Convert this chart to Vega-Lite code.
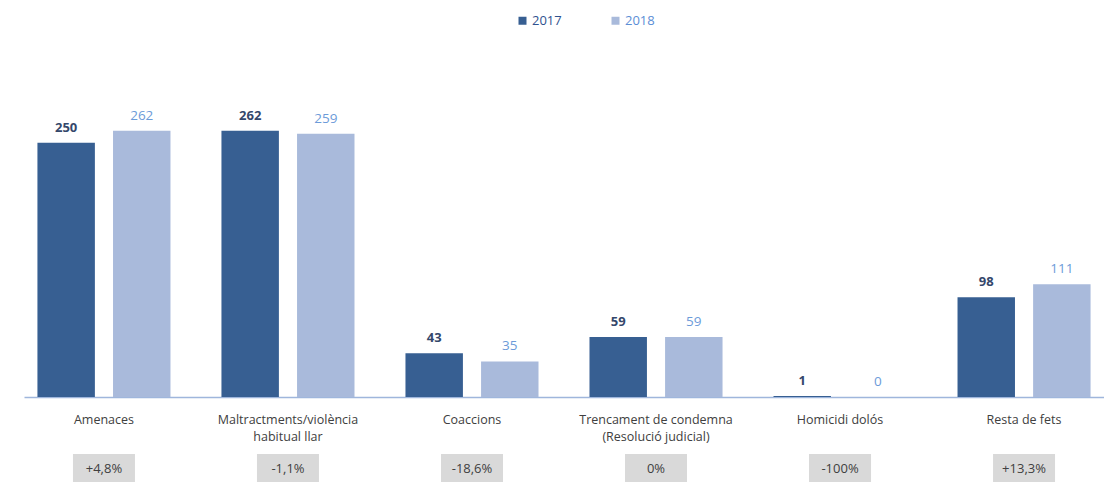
{
  "$schema": "https://vega.github.io/schema/vega-lite/v6.json",
  "padding": {"left": 24, "top": 14, "right": 0, "bottom": 0},
  "background": "white",
  "config": {"view": {"stroke": null}, "font": "Open Sans"},
  "datasets": {
    "bars": [
      {"cat": "Amenaces", "year": "2017", "value": 250},
      {"cat": "Amenaces", "year": "2018", "value": 262},
      {"cat": "Maltractments/violència habitual llar", "year": "2017", "value": 262},
      {"cat": "Maltractments/violència habitual llar", "year": "2018", "value": 259},
      {"cat": "Coaccions", "year": "2017", "value": 43},
      {"cat": "Coaccions", "year": "2018", "value": 35},
      {"cat": "Trencament de condemna (Resolució judicial)", "year": "2017", "value": 59},
      {"cat": "Trencament de condemna (Resolució judicial)", "year": "2018", "value": 59},
      {"cat": "Homicidi dolós", "year": "2017", "value": 1},
      {"cat": "Homicidi dolós", "year": "2018", "value": 0},
      {"cat": "Resta de fets", "year": "2017", "value": 98},
      {"cat": "Resta de fets", "year": "2018", "value": 111}
    ],
    "pcts": [
      {"cat": "Amenaces", "pct": "+4,8%"},
      {"cat": "Maltractments/violència habitual llar", "pct": "-1,1%"},
      {"cat": "Coaccions", "pct": "-18,6%"},
      {"cat": "Trencament de condemna (Resolució judicial)", "pct": "0%"},
      {"cat": "Homicidi dolós", "pct": "-100%"},
      {"cat": "Resta de fets", "pct": "+13,3%"}
    ]
  },
  "vconcat": [
    {
      "width": 1080,
      "height": 305,
      "data": {"name": "bars"},
      "encoding": {
        "x": {
          "field": "cat", "type": "nominal", "sort": null, "title": null,
          "scale": {"type": "band", "paddingInner": 0.277, "paddingOuter": 0.073},
          "axis": {
            "labelAngle": 0, "ticks": false, "labelPadding": 16,
            "labelFontSize": 12.5, "labelColor": "#404040", "labelLineHeight": 17,
            "domainColor": "#9fb6dc", "domainWidth": 1.5, "labelLimit": 300,
            "labelExpr": "datum.value == 'Maltractments/violència habitual llar' ? ['Maltractments/violència', 'habitual llar'] : datum.value == 'Trencament de condemna (Resolució judicial)' ? ['Trencament de condemna', '(Resolució judicial)'] : datum.value"
          }
        },
        "xOffset": {"field": "year", "type": "nominal", "scale": {"paddingInner": 0.24, "paddingOuter": 0}},
        "y": {"field": "value", "type": "quantitative", "scale": {"domain": [0, 300]}, "axis": null}
      },
      "layer": [
        {
          "mark": {"type": "bar"},
          "encoding": {
            "color": {
              "field": "year", "type": "nominal", "title": null,
              "scale": {"domain": ["2017", "2018"], "range": ["#375f92", "#a9badb"]},
              "legend": {
                "orient": "none", "legendX": 492, "legendY": -78, "direction": "horizontal",
                "columns": 2, "padding": 0, "symbolType": "square", "symbolSize": 64,
                "symbolStrokeWidth": 0, "labelFontSize": 13, "labelOffset": 3, "columnPadding": 47,
                "encode": {"labels": {"update": {"fill": {"signal": "datum.label === '2017' ? '#2f528f' : '#5b8ed6'"}}}}
              }
            }
          }
        },
        {
          "transform": [{"filter": "datum.year == '2017'"}],
          "mark": {"type": "text", "baseline": "bottom", "dy": -8, "fontSize": 13, "fontWeight": "bold", "color": "#34476b"},
          "encoding": {"text": {"field": "value", "type": "quantitative"}}
        },
        {
          "transform": [{"filter": "datum.year == '2018'"}],
          "mark": {"type": "text", "baseline": "bottom", "dy": -8, "fontSize": 13.5, "color": "#6c9bd9"},
          "encoding": {"text": {"field": "value", "type": "quantitative"}}
        }
      ]
    },
    {
      "width": 1080,
      "height": 28,
      "data": {"name": "pcts"},
      "encoding": {
        "x": {
          "field": "cat", "type": "nominal", "sort": null, "title": null, "axis": null,
          "scale": {"type": "band", "paddingInner": 0.277, "paddingOuter": 0.073}
        }
      },
      "layer": [
        {
          "mark": {"type": "point", "filled": true, "opacity": 1, "color": "#d9d9d9", "strokeWidth": 0,
                   "shape": "M-1,-0.4516L1,-0.4516L1,0.4516L-1,0.4516Z", "size": 3844}
        },
        {
          "mark": {"type": "text", "fontSize": 13, "color": "#404040", "dy": 1},
          "encoding": {"text": {"field": "pct", "type": "nominal"}}
        }
      ]
    }
  ],
  "spacing": 11,
  "resolve": {"scale": {"x": "independent"}}
}
